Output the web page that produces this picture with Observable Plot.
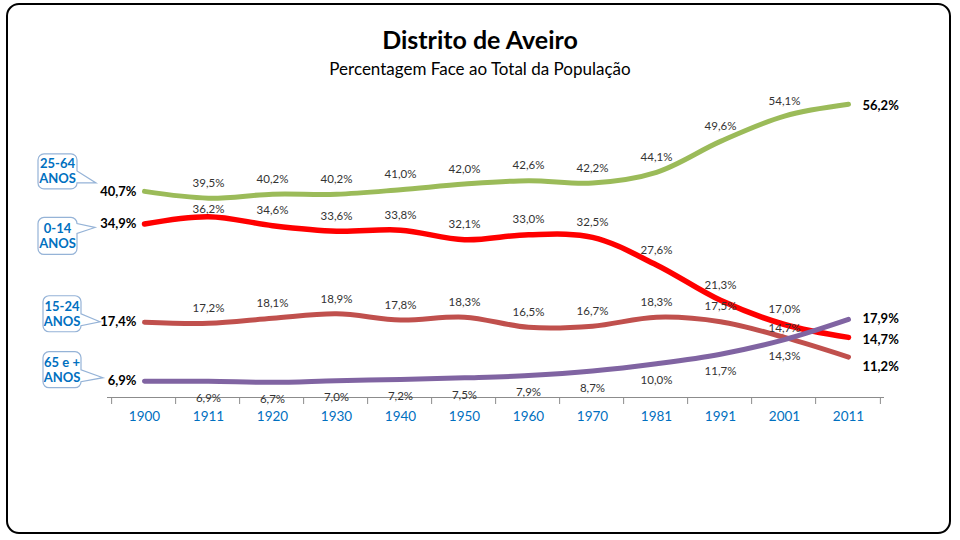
<!DOCTYPE html>
<html>
<head>
<meta charset="utf-8">
<script src="https://cdn.jsdelivr.net/npm/d3@7"></script>
<script src="https://cdn.jsdelivr.net/npm/@observablehq/plot@0.6"></script>
<style>
  html, body { margin: 0; padding: 0; background: #fff; }
  #wrap { position: relative; width: 960px; height: 540px; overflow: hidden; font-family: Lato, "Open Sans", sans-serif; }
  #border { position: absolute; left: 6px; top: 3px; width: 941px; height: 527px; border: 2.6px solid #000; border-radius: 13px; }
  #title { position: absolute; left: 0; width: 960px; top: 27px; text-align: center; font-size: 25px; font-weight: bold; line-height: 1; color: #000; }
  #subtitle { position: absolute; left: 0; width: 960px; top: 60px; text-align: center; font-size: 17px; line-height: 1; color: #000; }
  #chart { position: absolute; left: 0; top: 0; }
</style>
</head>
<body>
<div id="wrap">
  <div id="border"></div>
  <div id="title">Distrito de Aveiro</div>
  <div id="subtitle">Percentagem Face ao Total da População</div>
  <div id="chart"></div>
</div>
<script>
// ---- Data ----
const years = ["1900", "1911", "1920", "1930", "1940", "1950", "1960", "1970", "1981", "1991", "2001", "2011"];
const groups = ["25-64", "15-24", "0-14", "65 e +"];
const age25_64 = [40.7, 39.5, 40.2, 40.2, 41.0, 42.0, 42.6, 42.2, 44.1, 49.6, 54.1, 56.2];
const age0_14  = [34.9, 36.2, 34.6, 33.6, 33.8, 32.1, 33.0, 32.5, 27.6, 21.3, 17.0, 14.7];
const age15_24 = [17.4, 17.2, 18.1, 18.9, 17.8, 18.3, 16.5, 16.7, 18.3, 17.5, 14.7, 11.2];
const age65    = [6.9, 6.9, 6.7, 7.0, 7.2, 7.5, 7.9, 8.7, 10.0, 11.7, 14.3, 17.9];
const calloutText = {"25-64": ["25-64", "ANOS"], "0-14": ["0-14", "ANOS"], "15-24": ["15-24", "ANOS"], "65 e +": ["65 e +", "ANOS"]};
const yDomain = [4, 60];

// ---- Styles ----
const colors = {"25-64": "#9BBB59", "0-14": "#FF0000", "15-24": "#C0504D", "65 e +": "#8064A2"};
const widths = {"25-64": 5, "0-14": 5.5, "15-24": 5, "65 e +": 5};
const below = {"65 e +": true};
const endNudge = {"15-24": 10, "0-14": 2, "25-64": 1, "65 e +": -1};
const labelNudge = {"0-14|1911": 8, "15-24|2001": 6};
// callout layout relative to first point: box left/top/w/h, pointer tip offset
const calloutLayout = {
  "25-64": {left: -106, top: -37, w: 39, h: 35, tx: -48, ty: -8},
  "0-14":  {left: -106, top: -6,  w: 39, h: 37, tx: -49, ty: 4},
  "15-24": {left: -101, top: -26, w: 38, h: 36, tx: -44, ty: 0},
  "65 e +": {left: -101, top: -29, w: 38, h: 36, tx: -41, ty: -3}
};

const valuesBy = {"25-64": age25_64, "0-14": age0_14, "15-24": age15_24, "65 e +": age65};
const table = groups.flatMap(g => valuesBy[g].map((v, i) => ({group: g, year: years[i], value: v, i})));
const fmt = v => v.toFixed(1).replace(".", ",") + "%";
const last = years.length - 1;
const mid = table.filter(d => d.i > 0 && d.i < last);
const firsts = table.filter(d => d.i === 0);
const lasts = table.filter(d => d.i === last);
const key = d => d.group + "|" + d.year;

const marks = [
  Plot.ruleY([yDomain[0]], {stroke: "#8C8C8C", strokeWidth: 1}),
  Plot.axisX({tickSize: 0, tickPadding: 14, fontSize: 13.5, fill: "#0070C0", label: null}),
  ...groups.map(g => Plot.line(table.filter(d => d.group === g), {
    x: "year", y: "value", stroke: colors[g], strokeWidth: widths[g],
    curve: "catmull-rom", strokeLinecap: "round", strokeLinejoin: "round"
  })),
  Plot.text(mid.filter(d => !below[d.group] && !labelNudge[key(d)]), {x: "year", y: "value", text: d => fmt(d.value), dy: -15, fontSize: 11.5, fill: "#333"}),
  ...mid.filter(d => labelNudge[key(d)]).map(d => Plot.text([d], {x: "year", y: "value", text: d => fmt(d.value), dy: -15 + labelNudge[key(d)], fontSize: 11.5, fill: "#333"})),
  Plot.text(mid.filter(d => below[d.group]), {x: "year", y: "value", text: d => fmt(d.value), dy: 17, fontSize: 11.5, fill: "#333"}),
  Plot.text(firsts, {x: "year", y: "value", text: d => fmt(d.value), textAnchor: "end", dx: -8, fontSize: 13, fontWeight: "bold", fill: "#000"}),
  ...groups.map(g => Plot.text(lasts.filter(d => d.group === g), {
    x: "year", y: "value", text: d => fmt(d.value), textAnchor: "start", dx: 14, dy: endNudge[g] || 0,
    fontSize: 13, fontWeight: "bold", fill: "#000"
  }))
];

const plot = Plot.plot({
  width: 960, height: 540,
  marginLeft: 107, marginRight: 76, marginTop: 82.5, marginBottom: 143,
  x: {type: "point", domain: years, padding: 0.5, axis: null},
  y: {domain: yDomain, axis: null},
  style: {fontFamily: "Lato, 'Open Sans', sans-serif", background: "transparent", overflow: "visible"},
  marks
});
document.getElementById("chart").appendChild(plot);

// ---- boundary ticks & callouts drawn with the plot's scales ----
const xs = plot.scale("x"), ys = plot.scale("y");
const svg = d3.select(plot);
svg.selectAll('g[aria-label="x-axis tick label"]').attr("fill", "#0070C0");
const step = (xs.range[1] - xs.range[0]) / years.length;
const yAxis = ys.apply(yDomain[0]);
const gt = svg.append("g").attr("stroke", "#8C8C8C").attr("stroke-width", 1);
years.concat(["end"]).forEach((y, i) => {
  const px = i < years.length ? xs.apply(y) - step / 2 : xs.apply(years[last]) + step / 2;
  gt.append("line").attr("x1", px).attr("x2", px).attr("y1", yAxis).attr("y2", yAxis + 7);
});

const gc = svg.append("g");
groups.forEach(g => {
  const L = calloutLayout[g];
  const px = xs.apply(years[0]), py = ys.apply(valuesBy[g][0]);
  const x0 = px + L.left, y0 = py + L.top, x1 = x0 + L.w, y1 = y0 + L.h, r = 6;
  const tx = px + L.tx, ty = py + L.ty;
  let b1 = Math.max(y0 + r, ty - 8), b2 = Math.min(y1 - r, ty + 6);
  if (b2 - b1 < 10) { b1 = Math.max(y0 + r, b2 - 12); }
  const p = d3.path();
  p.moveTo(x0 + r, y0);
  p.lineTo(x1 - r, y0);
  p.arcTo(x1, y0, x1, y0 + r, r);
  p.lineTo(x1, b1);
  p.lineTo(tx, ty);
  p.lineTo(x1, b2);
  p.lineTo(x1, y1 - r);
  p.arcTo(x1, y1, x1 - r, y1, r);
  p.lineTo(x0 + r, y1);
  p.arcTo(x0, y1, x0, y1 - r, r);
  p.lineTo(x0, y0 + r);
  p.arcTo(x0, y0, x0 + r, y0, r);
  p.closePath();
  gc.append("path").attr("d", p.toString()).attr("fill", "#fff").attr("stroke", "#95B3D7").attr("stroke-width", 1.2);
  const cx = (x0 + x1) / 2, cy = (y0 + y1) / 2;
  const t = gc.append("text").attr("text-anchor", "middle").attr("fill", "#0070C0")
    .attr("font-family", "Lato, 'Open Sans', sans-serif").attr("font-weight", "bold").attr("font-size", 13);
  calloutText[g].forEach((s, k) => {
    t.append("tspan").attr("x", cx).attr("y", cy + (k === 0 ? -3 : 12)).text(s);
  });
});
</script>
</body>
</html>
